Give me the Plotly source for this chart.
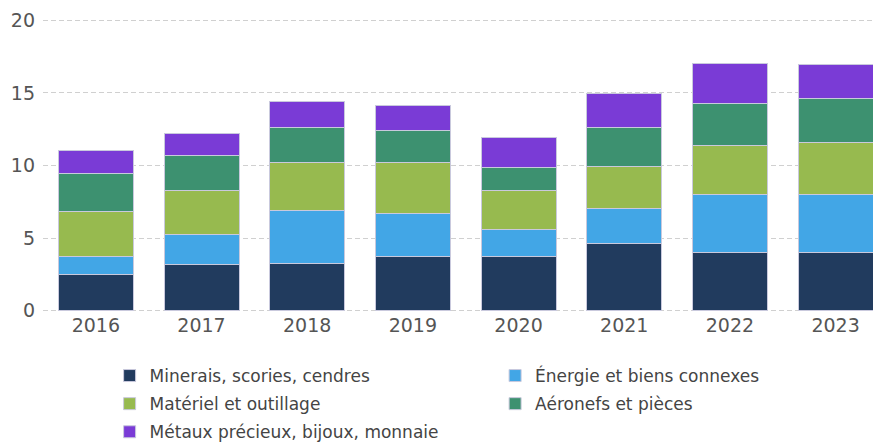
import plotly.graph_objects as go


# --------------------------------------------------
# Data
# --------------------------------------------------
years = ["2016", "2017", "2018", "2019", "2020", "2021", "2022", "2023"]

minerais = [2.46, 3.15, 3.27, 3.72, 3.72, 4.60, 4.00, 4.00]
energie = [1.26, 2.07, 3.63, 2.95, 1.85, 2.46, 4.03, 4.03]
materiel = [3.11, 3.06, 3.31, 3.54, 2.69, 2.87, 3.33, 3.58]
aeronefs = [2.65, 2.41, 2.41, 2.20, 1.60, 2.69, 2.90, 2.99]
metaux = [1.53, 1.54, 1.79, 1.71, 2.07, 2.37, 2.80, 2.34]

# name, values, colour, legend column
series = [
    ("Minerais, scories, cendres", minerais, "#213b5e", "legend"),
    ("Énergie et biens connexes", energie, "#42a6e6", "legend2"),
    ("Matériel et outillage", materiel, "#97ba4f", "legend"),
    ("Aéronefs et pièces", aeronefs, "#3d9170", "legend2"),
    ("Métaux précieux, bijoux, monnaie", metaux, "#7a3bd6", "legend"),
]


# --------------------------------------------------
# Stacked bars
# --------------------------------------------------
fig = go.Figure()

for name, values, color, leg in series:
    fig.add_trace(
        go.Bar(
            x=years,
            y=values,
            name=name,
            legend=leg,
            legendgroup=name,
            marker=dict(color=color, line=dict(color="#c9c9dd", width=1)),
        )
    )

legend_style = dict(
    orientation="v",
    traceorder="grouped",
    yanchor="top",
    xanchor="left",
    y=-0.157,
    tracegroupgap=3,
    itemwidth=30,
    bgcolor="rgba(0,0,0,0)",
    font=dict(size=17, color="#444444"),
)

# the page body adds an 8px offset, so the figure is 8px smaller than the window
fig.update_layout(
    barmode="stack",
    bargap=0.29,
    width=873,
    height=435,
    margin=dict(l=35, r=0, t=11, b=131, autoexpand=False),
    paper_bgcolor="white",
    plot_bgcolor="white",
    font=dict(family="DejaVu Sans", color="#555555"),
    legend=dict(legend_style, x=0.0795),
    legend2=dict(legend_style, x=0.5395),
)

fig.update_xaxes(
    range=[-0.5, 7.43],
    showgrid=False,
    showline=False,
    ticks="",
    tickfont=dict(size=19, color="#555555"),
)

fig.update_yaxes(
    range=[-0.1, 20.1],
    tickvals=[0, 5, 10, 15, 20],
    showgrid=True,
    gridcolor="#d0d0d0",
    griddash="5px,3px",
    zeroline=False,
    ticks="",
    ticklabelstandoff=7,
    tickfont=dict(size=19, color="#555555"),
)

fig.write_html("out.html")
